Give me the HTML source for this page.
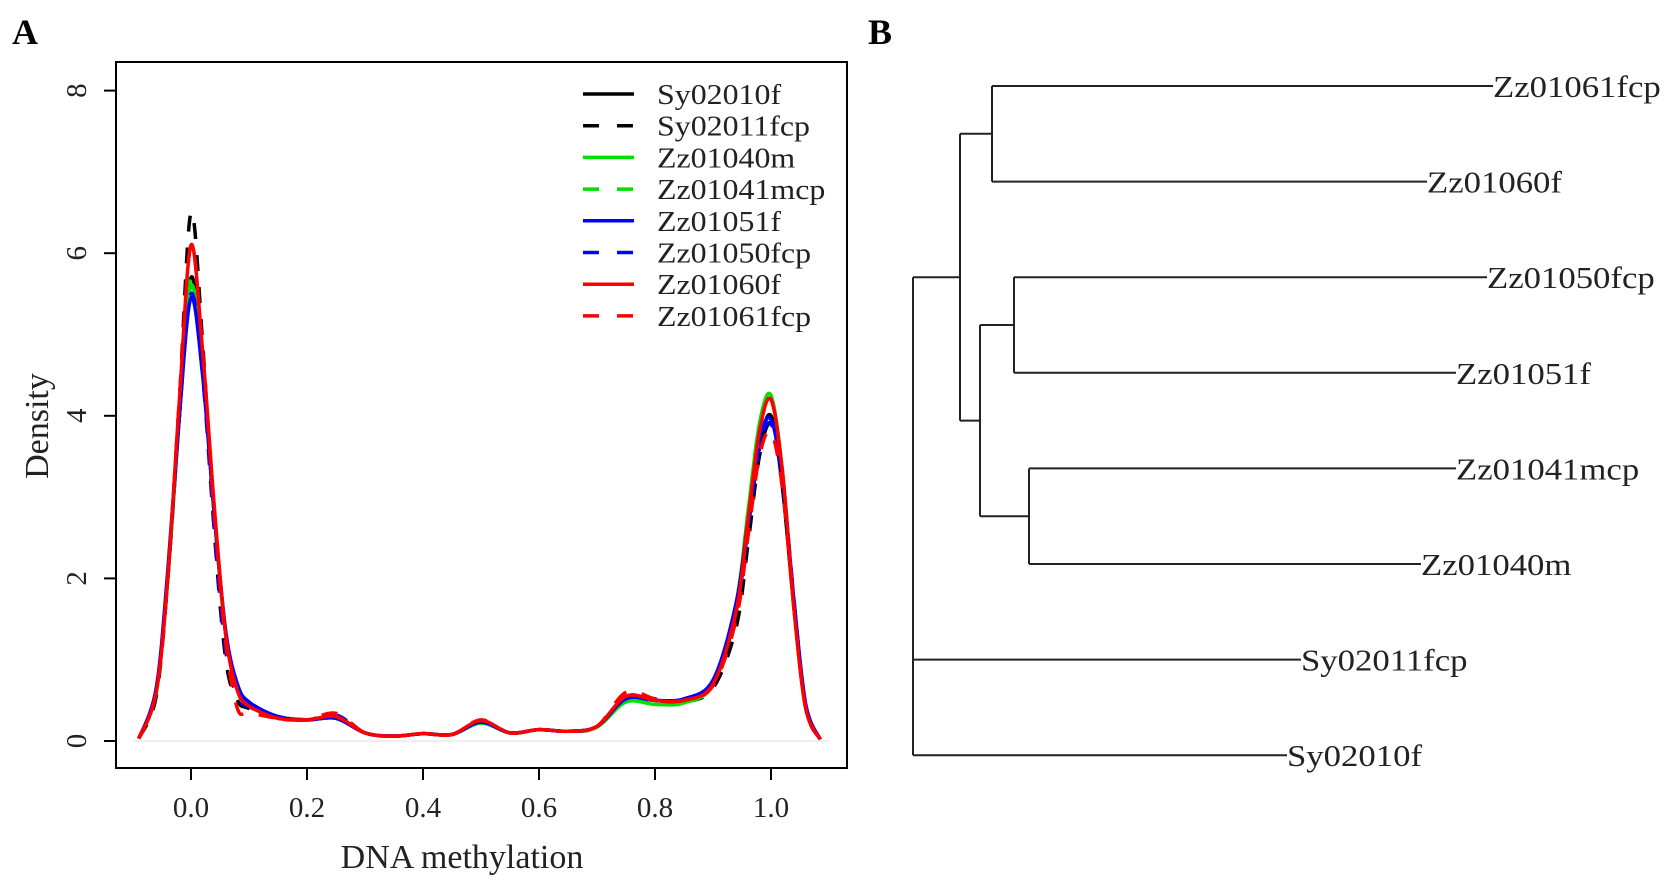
<!DOCTYPE html>
<html><head><meta charset="utf-8"><style>
html,body{margin:0;padding:0;background:#fff;}
svg{display:block;font-family:"Liberation Serif",serif;}
</style></head><body>
<svg id="fig" width="1677" height="888" viewBox="0 0 1677 888">
<text x="12" y="44" font-size="36" font-weight="bold">A</text>
<text x="868" y="44" font-size="36" font-weight="bold">B</text>
<g id="chart"></g>
<g id="tree"></g>
</svg>
<script>
const xGrid=[-0.09,-0.06,-0.04,-0.02,0,0.02,0.04,0.06,0.08,0.1,0.15,0.2,0.25,0.3,0.35,0.4,0.45,0.5,0.55,0.6,0.65,0.7,0.75,0.8,0.85,0.9,0.94,0.96,0.98,1.0,1.02,1.04,1.06,1.085];
const seriesNames=["Sy02010f","Sy02011fcp","Zz01040m","Zz01041mcp","Zz01051f","Zz01050fcp","Zz01060f","Zz01061fcp"];
const seriesColors=["#000","#000","#00e000","#00e000","#0000ff","#0000ff","#ff0000","#ff0000"];
const seriesDashed=[false,true,false,true,false,true,false,true];
const sSy02010f=[0.03,0.6,2.0,4.0,5.7,4.6,2.8,1.3,0.65,0.45,0.3,0.26,0.28,0.1,0.06,0.09,0.08,0.23,0.1,0.14,0.12,0.18,0.55,0.5,0.5,0.7,1.6,2.6,3.6,4.0,3.1,1.6,0.4,0.02];
const sSy02011fcp=[0.03,0.55,2.0,4.2,6.5,4.9,2.6,1.0,0.5,0.4,0.28,0.26,0.3,0.1,0.06,0.09,0.08,0.24,0.1,0.14,0.12,0.17,0.52,0.5,0.48,0.65,1.4,2.4,3.5,3.9,3.2,1.7,0.4,0.02];
const sZz01040m=[0.03,0.6,2.0,4.0,5.6,4.6,2.8,1.3,0.65,0.45,0.3,0.26,0.28,0.1,0.06,0.09,0.08,0.22,0.1,0.14,0.12,0.17,0.48,0.45,0.47,0.7,1.7,2.8,3.9,4.25,3.3,1.6,0.4,0.02];
const sZz01041mcp=[0.03,0.6,2.0,4.0,5.7,4.6,2.8,1.3,0.65,0.45,0.3,0.26,0.3,0.1,0.06,0.09,0.08,0.24,0.1,0.14,0.12,0.18,0.52,0.48,0.5,0.7,1.7,2.8,3.9,4.2,3.3,1.6,0.4,0.02];
const sZz01051f=[0.03,0.65,2.1,4.0,5.45,4.5,2.8,1.35,0.7,0.48,0.3,0.26,0.28,0.1,0.06,0.09,0.08,0.23,0.1,0.14,0.12,0.18,0.52,0.5,0.52,0.75,1.7,2.7,3.7,3.95,3.2,1.7,0.45,0.02];
const sZz01050fcp=[0.03,0.6,2.0,4.0,5.5,4.5,2.6,1.1,0.55,0.42,0.3,0.26,0.32,0.1,0.06,0.09,0.08,0.25,0.1,0.14,0.12,0.18,0.55,0.5,0.5,0.72,1.6,2.6,3.6,3.9,3.2,1.7,0.4,0.02];
const sZz01060f=[0.03,0.6,2.0,4.2,6.1,4.8,2.9,1.3,0.62,0.43,0.28,0.26,0.3,0.1,0.06,0.09,0.08,0.25,0.1,0.14,0.12,0.18,0.55,0.5,0.5,0.7,1.6,2.7,3.8,4.2,3.3,1.6,0.4,0.02];
const sZz01061fcp=[0.03,0.6,2.0,4.2,6.1,4.8,2.8,1.2,0.4,0.35,0.28,0.26,0.34,0.1,0.06,0.09,0.08,0.26,0.1,0.14,0.12,0.18,0.6,0.52,0.5,0.68,1.5,2.5,3.5,3.8,3.1,1.6,0.4,0.02];
const seriesValues=[sSy02010f,sSy02011fcp,sZz01040m,sZz01041mcp,sZz01051f,sZz01050fcp,sZz01060f,sZz01061fcp];
const xTicks=[0,0.2,0.4,0.6,0.8,1.0];
const xTickLabels=["0.0","0.2","0.4","0.6","0.8","1.0"];
const yTicks=[0,2,4,6,8];
const yTickLabels=["0","2","4","6","8"];
const leafNames=["Zz01061fcp","Zz01060f","Zz01050fcp","Zz01051f","Zz01041mcp","Zz01040m","Sy02011fcp","Sy02010f"];
const leafHeights=[1493,1427,1487,1456,1456,1421,1301,1287];
const nodeChildren=[[0,1],[2,3],[4,5],[101,102],[100,103],[104,6,7]];
const nodeHeights=[992,1014,1029,980,960,913];

const NS="http://www.w3.org/2000/svg";
function mk(tag,attrs,parent){const e=document.createElementNS(NS,tag);for(const k in attrs)e.setAttribute(k,attrs[k]);parent.appendChild(e);return e;}
function stretch(el,f){const w=el.getComputedTextLength();el.setAttribute('textLength',w*f);el.setAttribute('lengthAdjust','spacingAndGlyphs');}
const X=v=>191+v*580, Y=v=>741-v*81.3;
const chart=document.getElementById('chart');
mk('line',{x1:X(-0.1),x2:X(1.1),y1:Y(0),y2:Y(0),stroke:"#ddd","stroke-width":1},chart);
function path(pts){let d=`M${pts[0][0]},${pts[0][1]}`;for(let i=0;i<pts.length-1;i++){const p0=pts[i-1]||pts[i],p1=pts[i],p2=pts[i+1],p3=pts[i+2]||p2;d+=` C${p1[0]+(p2[0]-p0[0])/6},${p1[1]+(p2[1]-p0[1])/6} ${p2[0]-(p3[0]-p1[0])/6},${p2[1]-(p3[1]-p1[1])/6} ${p2[0]},${p2[1]}`;}return d;}
seriesValues.forEach((vals,i)=>{
  const p=mk('path',{d:path(vals.map((v,j)=>[X(xGrid[j]),Y(v)])),fill:"none",stroke:seriesColors[i],"stroke-width":3.5,"stroke-dasharray":seriesDashed[i]?"16,16":"none"},chart);
  
  
});
const box=mk('rect',{x:116,y:62,width:731,height:706,fill:"none",stroke:"#000","stroke-width":2},chart);


xTicks.forEach((t,i)=>{
  mk('line',{x1:X(t),x2:X(t),y1:768,y2:780,stroke:"#000","stroke-width":2},chart);
  const tx=mk('text',{x:X(t),y:817,"font-size":29,"text-anchor":"middle",fill:"#222"},chart);tx.textContent=xTickLabels[i];
  
  
});
yTicks.forEach((t,i)=>{
  mk('line',{x1:104,x2:116,y1:Y(t),y2:Y(t),stroke:"#000","stroke-width":2},chart);
  const tx=mk('text',{x:0,y:0,"font-size":29,"text-anchor":"middle",fill:"#222",transform:`translate(86,${Y(t)}) rotate(-90)`},chart);tx.textContent=yTickLabels[i];
  
  
});
let t=mk('text',{x:462,y:868,"font-size":34,"text-anchor":"middle",fill:"#222"},chart);t.textContent="DNA methylation";


t=mk('text',{x:0,y:0,"font-size":34,"text-anchor":"middle",fill:"#222",transform:"translate(48,426) rotate(-90)"},chart);t.textContent="Density";


seriesNames.forEach((n,i)=>{
  const y=94+i*31.7;
  const g=mk('g',{},chart);
  
  
  mk('line',{x1:583,x2:634,y1:y,y2:y,stroke:seriesColors[i],"stroke-width":3.5,"stroke-dasharray":seriesDashed[i]?"16,18":"none"},g);
  const tx=mk('text',{x:657,y:y+10,"font-size":29,fill:"#222"},g);tx.textContent=n;
  stretch(tx,1.1);
});
const tree=document.getElementById('tree');
const leafY=leafNames.map((_,i)=>86+i*95.6);
const nodeY=[];
function cy(c){return c>=100?nodeY[c-100]:leafY[c];}
function cx(c){return c>=100?nodeHeights[c-100]:leafHeights[c];}
nodeChildren.forEach((ch,k)=>{
  const ys=ch.map(cy);nodeY[k]=ch.length===3?(ys[0]+ys[1])/2:(ys[0]+ys[ys.length-1])/2;
  const xn=nodeHeights[k];
  const v=mk('line',{x1:xn,x2:xn,y1:Math.min(...ys),y2:Math.max(...ys),stroke:"#222","stroke-width":2},tree);
  
  
  ch.forEach(c=>{const h=mk('line',{x1:xn,x2:cx(c),y1:cy(c),y2:cy(c),stroke:"#222","stroke-width":2},tree);
    
    });
});
leafNames.forEach((n,i)=>{
  const tx=mk('text',{x:leafHeights[i],y:leafY[i]+11,"font-size":31,fill:"#222"},tree);tx.textContent=n;
  
  
  stretch(tx,1.12);
});
</script>
</body></html>
